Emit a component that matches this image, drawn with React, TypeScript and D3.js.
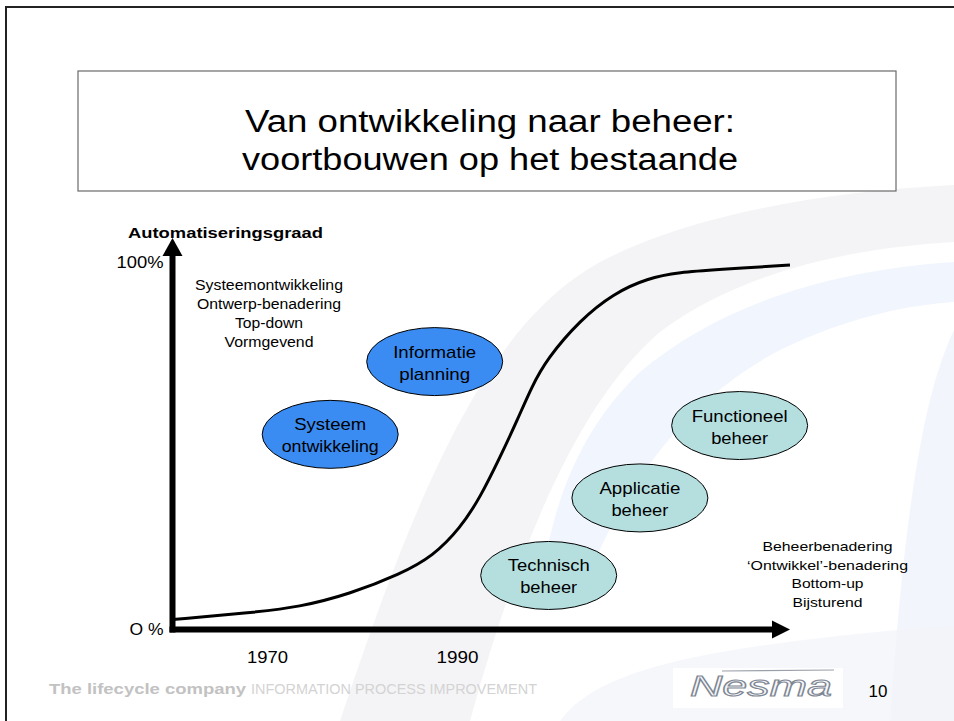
import React, { useEffect, useRef } from 'react';
import * as d3 from 'd3';

// S-curve: automation level (%) over time
const years = [1960, 1968, 1973.4, 1978.7, 1984, 1987.4, 1990.3, 1992.4, 1994.5, 1996.3, 1997.8, 1999.4, 2002.9, 2006.4, 2010, 2013.4, 2017.3, 2025];
const automation = [2.7, 4.5, 6.1, 9.7, 15.1, 19.9, 27.6, 36, 47, 57, 66, 73.6, 84.2, 91.4, 95.6, 97.2, 97.9, 99.2];

const tickYears = [1970, 1990];
const yTickValues = [0, 100];
const yTickLabels = ['O %', '100%'];

// development phases (blue) and management phases (teal)
const devPhases = [['Systeem', 'ontwikkeling'], ['Informatie', 'planning']];
const devYears = [1976.6, 1987.6];
const devLevels = [53.1, 72.9];

const mgmtPhases = [['Technisch', 'beheer'], ['Applicatie', 'beheer'], ['Functioneel', 'beheer']];
const mgmtYears = [1999.6, 2009.2, 2019.7];
const mgmtLevels = [14.7, 35.8, 55.5];

const devTraits = ['Systeemontwikkeling', 'Ontwerp-benadering', 'Top-down', 'Vormgevend'];
const mgmtTraits = ['Beheerbenadering', '\u2018Ontwikkel\u2019-benadering', 'Bottom-up', 'Bijsturend'];

const titleLines = ['Van ontwikkeling naar beheer:', 'voortbouwen op het bestaande'];

// widths of the labels as drawn on the slide
const textWidths: Record<string, number> = {
  'Van ontwikkeling naar beheer:': 490,
  'voortbouwen op het bestaande': 496,
  Automatiseringsgraad: 195,
  'O %': 34,
  '100%': 47,
  '1970': 41,
  '1990': 42,
  Systeemontwikkeling: 148,
  'Ontwerp-benadering': 144,
  'Top-down': 68,
  Vormgevend: 89,
  Beheerbenadering: 130,
  '\u2018Ontwikkel\u2019-benadering': 161,
  'Bottom-up': 72,
  Bijsturend: 70,
  Systeem: 72,
  ontwikkeling: 97,
  Informatie: 83,
  planning: 71,
  Technisch: 82,
  beheer: 57,
  Applicatie: 81,
  Functioneel: 96,
};

const FONT = '"Liberation Sans", Arial, sans-serif';

const App = () => {
  const svgRef = useRef<SVGSVGElement>(null);

  useEffect(() => {
    if (!svgRef.current) return;
    const svg = d3.select(svgRef.current);
    svg.selectAll('*').remove();

    const width = 954;
    const height = 721;
    svg.attr('width', width).attr('height', height).style('font-family', FONT);

    const x = d3.scaleLinear().domain([1960, 2025]).range([172.5, 790]);
    const y = d3.scaleLinear().domain([0, 100]).range([629.5, 262]);
    const yArrowTop = 238;

    const addText = (
      parent: d3.Selection<any, any, any, any>,
      tx: number,
      ty: number,
      str: string,
      size: number,
      anchor = 'middle',
      weight = 'normal',
      fill = '#000'
    ) => {
      const t = parent
        .append('text')
        .attr('x', tx)
        .attr('y', ty)
        .attr('font-size', size)
        .attr('text-anchor', anchor)
        .attr('font-weight', weight)
        .attr('fill', fill)
        .text(str);
      if (textWidths[str]) t.attr('textLength', textWidths[str]).attr('lengthAdjust', 'spacingAndGlyphs');
      return t;
    };

    // background swooshes
    svg.append('rect').attr('width', width).attr('height', height).attr('fill', '#ffffff');
    const bg = svg.append('g');
    bg.append('path')
      .attr('d', 'M 954 185 C 820 192 690 215 600 262 C 490 322 420 480 340 721 L 470 721 C 520 540 580 400 660 332 C 740 272 850 248 954 242 Z')
      .attr('fill', '#efeff2')
      .attr('opacity', 0.7);
    bg.append('path')
      .attr('d', 'M 954 262 C 830 270 720 305 640 372 C 590 420 560 480 545 560 L 595 560 C 640 460 700 392 780 350 C 850 316 910 305 954 302 Z')
      .attr('fill', '#e8eefb')
      .attr('opacity', 0.6);
    bg.append('path')
      .attr('d', 'M 954 330 C 925 390 905 500 890 721 L 954 721 Z')
      .attr('fill', '#edf2fb')
      .attr('opacity', 0.7);
    bg.append('path')
      .attr('d', 'M 560 721 C 600 665 720 645 954 625 L 954 721 Z')
      .attr('fill', '#f2f4f9')
      .attr('opacity', 0.7);

    // slide frame
    svg.append('line').attr('x1', 5).attr('x2', width).attr('y1', 7).attr('y2', 7).attr('stroke', '#222').attr('stroke-width', 2);
    svg.append('line').attr('x1', 6).attr('x2', 6).attr('y1', 6).attr('y2', height).attr('stroke', '#222').attr('stroke-width', 2);

    // title box
    svg.append('rect')
      .attr('x', 78).attr('y', 71).attr('width', 818).attr('height', 120)
      .attr('fill', '#fff').attr('stroke', '#6a6a6a').attr('stroke-width', 1.2);
    titleLines.forEach((line, i) => addText(svg, 490, 132 + i * 38, line, 31));

    const g = svg.append('g');

    // curve
    const pts = years.map((yr, i) => [yr, automation[i]] as [number, number]);
    g.append('path')
      .datum(pts)
      .attr('fill', 'none')
      .attr('stroke', '#000')
      .attr('stroke-width', 3)
      .attr('d', d3.line<[number, number]>().x(d => x(d[0])).y(d => y(d[1])).curve(d3.curveBasis));

    // axes with arrow heads
    const x0 = x(1960);
    const y0 = y(0);
    const xEnd = x.range()[1];
    g.append('line').attr('x1', x0).attr('x2', x0).attr('y1', y0 + 3).attr('y2', yArrowTop + 12)
      .attr('stroke', '#000').attr('stroke-width', 6);
    g.append('path').attr('d', `M ${x0} ${yArrowTop} L ${x0 - 10} ${yArrowTop + 18} L ${x0 + 10} ${yArrowTop + 18} Z`).attr('fill', '#000');
    g.append('line').attr('x1', x0 - 3).attr('x2', xEnd - 12).attr('y1', y0).attr('y2', y0)
      .attr('stroke', '#000').attr('stroke-width', 6);
    g.append('path').attr('d', `M ${xEnd} ${y0} L ${xEnd - 18} ${y0 - 9} L ${xEnd - 18} ${y0 + 9} Z`).attr('fill', '#000');

    yTickValues.forEach((v, i) => addText(g, x0 - 9, y(v) + 5.5, yTickLabels[i], 16, 'end'));
    tickYears.forEach(yr => addText(g, x(yr), 663, String(yr), 16));
    addText(g, 128, 238, 'Automatiseringsgraad', 15, 'start', 'bold');

    // trait lists
    devTraits.forEach((t, i) => addText(g, 269, 290 + i * 19, t, 14));
    mgmtTraits.forEach((t, i) => addText(g, 827.5, 551 + i * 18.7, t, 13.5));

    // phase ellipses
    const drawPhases = (labels: string[][], yrs: number[], lvls: number[], fill: string) => {
      labels.forEach((lab, i) => {
        const cx = x(yrs[i]);
        const cy = y(lvls[i]);
        g.append('ellipse').attr('cx', cx).attr('cy', cy).attr('rx', 68).attr('ry', 34)
          .attr('fill', fill).attr('stroke', '#000').attr('stroke-width', 1);
        addText(g, cx, cy - 4, lab[0], 17);
        addText(g, cx, cy + 18, lab[1], 17);
      });
    };
    drawPhases(devPhases, devYears, devLevels, '#3a8cf2');
    drawPhases(mgmtPhases, mgmtYears, mgmtLevels, '#b5dfdf');

    // footer
    svg.append('text').attr('x', 49).attr('y', 694).attr('font-size', 15).attr('font-weight', 'bold')
      .attr('fill', '#c2c2c2').attr('textLength', 197).attr('lengthAdjust', 'spacingAndGlyphs').text('The lifecycle company');
    svg.append('text').attr('x', 251).attr('y', 694).attr('font-size', 14)
      .attr('fill', '#d3d3d3').attr('textLength', 286).attr('lengthAdjust', 'spacingAndGlyphs').text('INFORMATION PROCESS IMPROVEMENT');

    // logo
    svg.append('rect').attr('x', 673).attr('y', 668).attr('width', 170).attr('height', 40).attr('fill', '#fff');
    svg.append('line').attr('x1', 722).attr('x2', 834).attr('y1', 671).attr('y2', 670).attr('stroke', '#9aa0aa').attr('stroke-width', 1.2);
    svg.append('text').attr('x', 690).attr('y', 696).attr('font-size', 30).attr('font-style', 'italic')
      .attr('fill', '#f6f7fa').attr('stroke', '#7f8794').attr('stroke-width', 1.1)
      .attr('textLength', 142).attr('lengthAdjust', 'spacingAndGlyphs').text('Nesma');

    svg.append('text').attr('x', 878).attr('y', 697).attr('font-size', 17).attr('text-anchor', 'middle').text('10');
  }, []);

  return (
    <div style={{ position: 'absolute', left: 0, top: 0 }}>
      <svg ref={svgRef} style={{ display: 'block' }}></svg>
    </div>
  );
};

export default App;
